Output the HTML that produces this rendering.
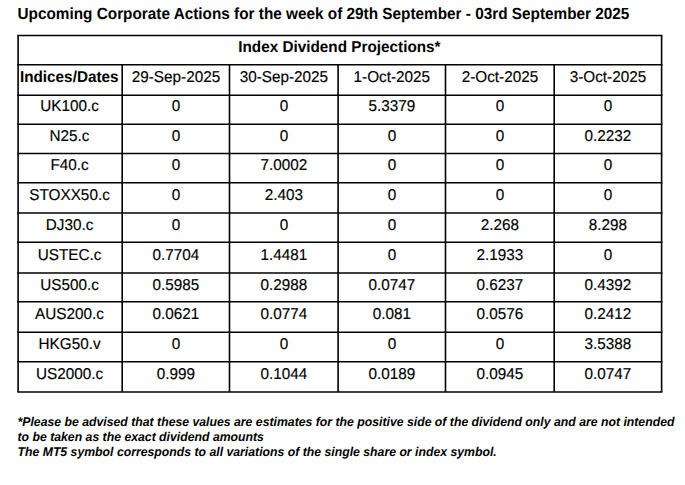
<!DOCTYPE html>
<html lang="en">
<head>
<meta charset="utf-8">
<title>Upcoming Corporate Actions</title>
<style>
html,body{margin:0;padding:0;background:#fff;}
body{width:685px;height:485px;position:relative;overflow:hidden;text-rendering:geometricPrecision;font-family:"Liberation Sans",Arial,sans-serif;color:#000;}
#grid{position:absolute;left:0;top:0;width:685px;height:485px;}
.t{position:absolute;white-space:nowrap;line-height:20px;font-size:15.3px;text-align:center;-webkit-text-stroke:0.15px #000;transform:scaleY(1.03);transform-origin:50% 14.3px;}
.b{font-weight:bold;-webkit-text-stroke:0;}
h1{position:absolute;margin:0;white-space:nowrap;font-weight:bold;font-size:15.345px;line-height:20px;left:17.5px;transform:scaleY(1.05);transform-origin:0 14.3px;}
.fn{position:absolute;margin:0;white-space:nowrap;font-weight:bold;font-style:italic;font-size:12.26px;line-height:16px;left:17.5px;transform:scaleY(1.03);transform-origin:0 11.8px;}
</style>
</head>
<body>
<svg id="grid" width="685" height="485" viewBox="0 0 685 485">
<g stroke="#000" stroke-width="1.6" fill="none">
<line x1="17.30" y1="35.55" x2="662.40" y2="35.55"/>
<line x1="17.30" y1="64.70" x2="662.40" y2="64.70"/>
<line x1="17.30" y1="95.30" x2="662.40" y2="95.30"/>
<line x1="17.30" y1="124.20" x2="662.40" y2="124.20"/>
<line x1="17.30" y1="153.50" x2="662.40" y2="153.50"/>
<line x1="17.30" y1="182.70" x2="662.40" y2="182.70"/>
<line x1="17.30" y1="213.00" x2="662.40" y2="213.00"/>
<line x1="17.30" y1="242.30" x2="662.40" y2="242.30"/>
<line x1="17.30" y1="273.00" x2="662.40" y2="273.00"/>
<line x1="17.30" y1="301.80" x2="662.40" y2="301.80"/>
<line x1="17.30" y1="332.20" x2="662.40" y2="332.20"/>
<line x1="17.30" y1="361.70" x2="662.40" y2="361.70"/>
<line x1="17.30" y1="392.00" x2="662.40" y2="392.00"/>
<line x1="18.10" y1="35.55" x2="18.10" y2="392.00"/>
<line x1="122.20" y1="64.70" x2="122.20" y2="392.00"/>
<line x1="229.50" y1="64.70" x2="229.50" y2="392.00"/>
<line x1="338.10" y1="64.70" x2="338.10" y2="392.00"/>
<line x1="445.50" y1="64.70" x2="445.50" y2="392.00"/>
<line x1="554.20" y1="64.70" x2="554.20" y2="392.00"/>
<line x1="661.60" y1="35.55" x2="661.60" y2="392.00"/>
</g>
</svg>
<h1 style="top:4.70px">Upcoming Corporate Actions for the week of 29th September - 03rd September 2025</h1>
<div class="t b" style="left:139.40px;width:400px;top:37.70px;font-size:15.3px">Index Dividend Projections*</div>
<div class="t b" style="left:17.20px;width:104.10px;top:67.70px">Indices/Dates</div>
<div class="t" style="left:122.30px;width:107.30px;top:67.70px">29-Sep-2025</div>
<div class="t" style="left:229.60px;width:108.60px;top:67.70px">30-Sep-2025</div>
<div class="t" style="left:338.20px;width:107.40px;top:67.70px">1-Oct-2025</div>
<div class="t" style="left:445.60px;width:108.70px;top:67.70px">2-Oct-2025</div>
<div class="t" style="left:554.30px;width:107.40px;top:67.70px">3-Oct-2025</div>
<div class="t" style="left:17.50px;width:104.10px;top:96.70px">UK100.c</div>
<div class="t" style="left:122.30px;width:107.30px;top:96.70px">0</div>
<div class="t" style="left:229.60px;width:108.60px;top:96.70px">0</div>
<div class="t" style="left:338.20px;width:107.40px;top:96.70px">5.3379</div>
<div class="t" style="left:445.60px;width:108.70px;top:96.70px">0</div>
<div class="t" style="left:554.30px;width:107.40px;top:96.70px">0</div>
<div class="t" style="left:17.50px;width:104.10px;top:126.70px">N25.c</div>
<div class="t" style="left:122.30px;width:107.30px;top:126.70px">0</div>
<div class="t" style="left:229.60px;width:108.60px;top:126.70px">0</div>
<div class="t" style="left:338.20px;width:107.40px;top:126.70px">0</div>
<div class="t" style="left:445.60px;width:108.70px;top:126.70px">0</div>
<div class="t" style="left:554.30px;width:107.40px;top:126.70px">0.2232</div>
<div class="t" style="left:17.50px;width:104.10px;top:155.70px">F40.c</div>
<div class="t" style="left:122.30px;width:107.30px;top:155.70px">0</div>
<div class="t" style="left:229.60px;width:108.60px;top:155.70px">7.0002</div>
<div class="t" style="left:338.20px;width:107.40px;top:155.70px">0</div>
<div class="t" style="left:445.60px;width:108.70px;top:155.70px">0</div>
<div class="t" style="left:554.30px;width:107.40px;top:155.70px">0</div>
<div class="t" style="left:17.50px;width:104.10px;top:185.70px">STOXX50.c</div>
<div class="t" style="left:122.30px;width:107.30px;top:185.70px">0</div>
<div class="t" style="left:229.60px;width:108.60px;top:185.70px">2.403</div>
<div class="t" style="left:338.20px;width:107.40px;top:185.70px">0</div>
<div class="t" style="left:445.60px;width:108.70px;top:185.70px">0</div>
<div class="t" style="left:554.30px;width:107.40px;top:185.70px">0</div>
<div class="t" style="left:17.50px;width:104.10px;top:215.70px">DJ30.c</div>
<div class="t" style="left:122.30px;width:107.30px;top:215.70px">0</div>
<div class="t" style="left:229.60px;width:108.60px;top:215.70px">0</div>
<div class="t" style="left:338.20px;width:107.40px;top:215.70px">0</div>
<div class="t" style="left:445.60px;width:108.70px;top:215.70px">2.268</div>
<div class="t" style="left:554.30px;width:107.40px;top:215.70px">8.298</div>
<div class="t" style="left:17.50px;width:104.10px;top:245.70px">USTEC.c</div>
<div class="t" style="left:122.30px;width:107.30px;top:245.70px">0.7704</div>
<div class="t" style="left:229.60px;width:108.60px;top:245.70px">1.4481</div>
<div class="t" style="left:338.20px;width:107.40px;top:245.70px">0</div>
<div class="t" style="left:445.60px;width:108.70px;top:245.70px">2.1933</div>
<div class="t" style="left:554.30px;width:107.40px;top:245.70px">0</div>
<div class="t" style="left:17.50px;width:104.10px;top:275.70px">US500.c</div>
<div class="t" style="left:122.30px;width:107.30px;top:275.70px">0.5985</div>
<div class="t" style="left:229.60px;width:108.60px;top:275.70px">0.2988</div>
<div class="t" style="left:338.20px;width:107.40px;top:275.70px">0.0747</div>
<div class="t" style="left:445.60px;width:108.70px;top:275.70px">0.6237</div>
<div class="t" style="left:554.30px;width:107.40px;top:275.70px">0.4392</div>
<div class="t" style="left:17.50px;width:104.10px;top:304.70px">AUS200.c</div>
<div class="t" style="left:122.30px;width:107.30px;top:304.70px">0.0621</div>
<div class="t" style="left:229.60px;width:108.60px;top:304.70px">0.0774</div>
<div class="t" style="left:338.20px;width:107.40px;top:304.70px">0.081</div>
<div class="t" style="left:445.60px;width:108.70px;top:304.70px">0.0576</div>
<div class="t" style="left:554.30px;width:107.40px;top:304.70px">0.2412</div>
<div class="t" style="left:17.50px;width:104.10px;top:334.70px">HKG50.v</div>
<div class="t" style="left:122.30px;width:107.30px;top:334.70px">0</div>
<div class="t" style="left:229.60px;width:108.60px;top:334.70px">0</div>
<div class="t" style="left:338.20px;width:107.40px;top:334.70px">0</div>
<div class="t" style="left:445.60px;width:108.70px;top:334.70px">0</div>
<div class="t" style="left:554.30px;width:107.40px;top:334.70px">3.5388</div>
<div class="t" style="left:17.50px;width:104.10px;top:364.70px">US2000.c</div>
<div class="t" style="left:122.30px;width:107.30px;top:364.70px">0.999</div>
<div class="t" style="left:229.60px;width:108.60px;top:364.70px">0.1044</div>
<div class="t" style="left:338.20px;width:107.40px;top:364.70px">0.0189</div>
<div class="t" style="left:445.60px;width:108.70px;top:364.70px">0.0945</div>
<div class="t" style="left:554.30px;width:107.40px;top:364.70px">0.0747</div>
<p class="fn" style="top:414.20px">*Please be advised that these values are estimates for the positive side of the dividend only and are not intended</p>
<p class="fn" style="top:429.20px">to be taken as the exact dividend amounts</p>
<p class="fn" style="top:444.20px">The MT5 symbol corresponds to all variations of the single share or index symbol.</p>
</body>
</html>
